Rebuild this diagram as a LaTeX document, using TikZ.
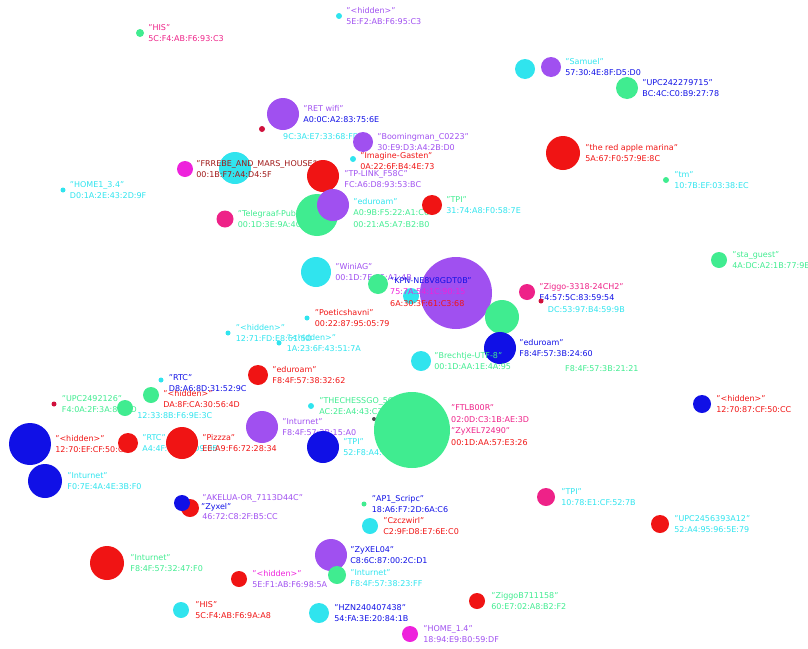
\documentclass[tikz,border=0pt]{standalone}
\usepackage{fontspec}
\setmainfont{DejaVu Sans}
\usetikzlibrary{positioning}
\definecolor{apred}{HTML}{F01414}
\definecolor{apblue}{HTML}{1010E6}
\definecolor{appurple}{HTML}{A050F0}
\definecolor{apcyan}{HTML}{30E4EE}
\definecolor{apgreen}{HTML}{40EC90}
\definecolor{apmag}{HTML}{EE22DC}
\definecolor{appink}{HTML}{EE2288}
\definecolor{apcrim}{HTML}{D0103C}
\definecolor{apdark}{HTML}{A01818}
\tikzset{
  ap/.style={circle, fill=#1, inner sep=0pt},
  ssid/.style={text=#1, font=\fontsize{8}{11.5}\selectfont, align=left, inner sep=0pt},
}

\begin{document}
\begin{tikzpicture}[x=1pt, y=-1pt]
  \useasboundingbox (0,0) rectangle (808,648);
  % top part
  \node[ap=apgreen, minimum size=8pt] (his1) at (140,33) {};
  \node[ssid=appink, right=4pt of his1] (his1-t) {"HIS"\\5C:F4:AB:F6:93:C3};
  \node[ap=apcyan, minimum size=6pt] (hid1) at (339,16) {};
  \node[ssid=appurple, right=4pt of hid1] (hid1-t) {"<hidden>"\\5E:F2:AB:F6:95:C3};
  \node[ap=apcyan, minimum size=20pt] (gstc) at (525,69) {};
  \node[ap=appurple, minimum size=20pt] (gstp) at (551,67) {};
  \node[ssid=apcyan, right=4pt of gstp] (gstp-t) {"Samuel"\\\textcolor{apblue}{57:30:4E:8F:D5:D0}};
  \node[ap=apgreen, minimum size=22pt] (upc1) at (627,88) {};
  \node[ssid=apblue, right=4pt of upc1] (upc1-t) {"UPC242279715"\\BC:4C:C0:B9:27:78};
  \node[ap=apred, minimum size=34pt] (apple) at (563,153) {};
  \node[ssid=apred, right=5pt of apple] (apple-t) {"the red apple marina"\\5A:67:F0:57:9E:8C};
  \node[ap=apgreen, minimum size=6pt] (tm) at (666,180) {};
  \node[ssid=apcyan, right=5pt of tm] (tm-t) {"tm"\\10:7B:EF:03:38:EC};

  \node[ap=apcrim, minimum size=6pt] (crim1) at (262,129) {};
  \node[ap=appurple, minimum size=32pt] (ret) at (283,114) {};
  \node[ssid=appurple, right=4pt of ret] (ret-t) {"RET wifi"\\\textcolor{apblue}{A0:0C:A2:83:75:6E}};
  \node[ssid=apcyan, anchor=west] (crim1-t) at (283,137) {9C:3A:E7:33:68:FD};
  \node[ap=appurple, minimum size=20pt] (boom) at (363,142) {};
  \node[ssid=appurple, right=4pt of boom] (boom-t) {"Boomingman\_C0223"\\30:E9:D3:A4:2B:D0};
  \node[ap=apcyan, minimum size=6pt] (img) at (353,159) {};
  \node[ssid=apred, right=4pt of img, yshift=-2pt] (img-t) {"Imagine-Gasten"\\0A:22:6F:B4:4E:73};
  \node[ap=apmag, minimum size=16pt] (frm) at (185,169) {};
  \node[ap=apcyan, minimum size=32pt] (frc) at (235,168) {};
  \node[ssid=apdark, right=3pt of frm] (frm-t) {"FRREBE\_AND\_MARS\_HOUSE"\\00:1B:F7:A4:D4:5F};
  \node[ap=apred, minimum size=32pt] (tpl) at (323,176) {};
  \node[ssid=appurple, right=5pt of tpl, yshift=-3pt] (tpl-t) {"TP-LINK\_F58C"\\FC:A6:D8:93:53:BC};
  \node[ap=apcyan, minimum size=5pt] (home1) at (63,190) {};
  \node[ssid=apcyan, right=4pt of home1] (home1-t) {"HOME1\_3.4"\\D0:1A:2E:43:2D:9F};
  \node[ap=appink, minimum size=17pt] (tel) at (225,219) {};
  \node[ssid=apgreen, right=4pt of tel] (tel-t) {"Telegraaf-Publiek"\\00:1D:3E:9A:4C:B1};
  \node[ap=apgreen, minimum size=42pt] (edug) at (317,215) {};
  \node[ap=appurple, minimum size=32pt] (edup) at (333,205) {};
  \node[ssid=apgreen, right=4pt of edup, yshift=-8pt] (edup-t)
    {\textcolor{apcyan}{"eduroam"}\\A0:9B:F5:22:A1:C6\\00:21:A5:A7:B2:B0};
  \node[ap=apred, minimum size=20pt] (tpi1) at (432,205) {};
  \node[ssid=apgreen, right=4pt of tpi1] (tpi1-t) {"TPI"\\\textcolor{apcyan}{31:74:A8:F0:58:7E}};
  \node[ap=apgreen, minimum size=16pt] (sta) at (719,260) {};
  \node[ssid=apgreen, right=5pt of sta] (sta-t) {"sta\_guest"\\4A:DC:A2:1B:77:9E};

  % middle part
  \node[ap=apcyan, minimum size=30pt] (win) at (316,272) {};
  \node[ssid=appurple, right=4pt of win] (win-t) {"WiniAG"\\00:1D:7E:35:A1:4B};
  \node[ap=appurple, minimum size=72pt] (kpn) at (456,293) {};
  \node[ap=apgreen, minimum size=20pt] (kpg) at (378,284) {};
  \node[ap=apcyan, minimum size=16pt] (kpc) at (411,296) {};
  \node[ap=apgreen, minimum size=34pt] (zg) at (502,317) {};
  \node[ssid=apblue, anchor=west] (kpn-t) at (390,292)
    {"KPN-NE8V8GDT0B"\\\textcolor{apmag}{75:7A:54:1C:90:15}\\\textcolor{apred}{6A:30:3F:61:C3:68}};
  \node[ap=appink, minimum size=16pt] (zig1) at (527,292) {};
  \node[ssid=appink, right=4pt of zig1] (zig1-t) {"Ziggo-3318-24CH2"\\\textcolor{apblue}{E4:57:5C:83:59:54}};
  \node[ap=apcrim, minimum size=5pt] (crim2) at (541,301) {};
  \node[ssid=apcyan, right=4pt of crim2, yshift=-9pt] (crim2-t) {DC:53:97:B4:59:9B};
  \node[ap=apblue, minimum size=32pt] (edub) at (500,348) {};
  \node[ssid=apblue, right=3pt of edub] (edub-t) {"eduroam"\\F8:4F:57:3B:24:60};
  \node[ssid=apgreen, anchor=west] (edub-x) at (565,369) {F8:4F:57:3B:21:21};
  \node[ap=apcyan, minimum size=20pt] (bre) at (421,361) {};
  \node[ssid=apgreen, right=3pt of bre] (bre-t) {"Brechtje-UTF-8"\\00:1D:AA:1E:4A:95};
  \node[ap=apcyan, minimum size=5pt] (poe) at (307,318) {};
  \node[ssid=apred, right=5pt of poe] (poe-t) {"Poeticshavni"\\00:22:87:95:05:79};
  \node[ap=apcyan, minimum size=5pt] (hid2) at (228,333) {};
  \node[ssid=apcyan, right=5pt of hid2] (hid2-t) {"<hidden>"\\12:71:FD:E8:61:5D};
  \node[ap=apcyan, minimum size=5pt] (hid3) at (279,343) {};
  \node[ssid=apcyan, right=5pt of hid3] (hid3-t) {"<hidden>"\\1A:23:6F:43:51:7A};
  \node[ap=apred, minimum size=20pt] (edur) at (258,375) {};
  \node[ssid=apred, right=4pt of edur] (edur-t) {"eduroam"\\F8:4F:57:38:32:62};
  \node[ap=apcyan, minimum size=5pt] (rtc1) at (161,380) {};
  \node[ap=apgreen, minimum size=16pt] (hidg) at (151,395) {};
  \node[ap=apgreen, minimum size=16pt] (upcg) at (125,408) {};
  \node[ssid=apblue, right=5pt of rtc1, yshift=-3pt] (rtc1-t) {"RTC"\\D8:A6:8D:31:52:9C};
  \node[ssid=apred, right=4pt of hidg, yshift=-4pt] (hidg-t) {"<hidden>"\\DA:8F:CA:30:56:4D};
  \node[ssid=apcyan, right=4pt of upcg, yshift=-8pt] (upcg-t) {12:33:8B:F6:9E:3C};
  \node[ap=apcrim, minimum size=5pt] (crim3) at (54,404) {};
  \node[ssid=apgreen, right=5pt of crim3] (crim3-t) {"UPC2492126"\\F4:0A:2F:3A:8B:1D};
  \node[ap=appurple, minimum size=32pt] (intp) at (262,427) {};
  \node[ssid=appurple, right=4pt of intp] (intp-t) {"Inturnet"\\F8:4F:57:3B:15:A0};
  \node[ap=apcyan, minimum size=6pt] (che) at (311,406) {};
  \node[ssid=apgreen, right=5pt of che] (che-t) {"THECHESSGO\_5G"\\AC:2E:A4:43:C7:09};
  \node[ap=apblue, minimum size=32pt] (tpib) at (323,447) {};
  \node[ssid=apcyan, right=4pt of tpib] (tpib-t) {"TPI"\\52:F8:A4:0C:71:E9};
  \node[ap=black!70, minimum size=4pt] (dkdot) at (374,419) {};
  \node[ap=apgreen, minimum size=76pt] (bigg) at (412,430) {};
  \node[ssid=appink, anchor=west] (bigg-t) at (451,425)
    {"FTLB00R"\\02:0D:C3:1B:AE:3D\\"ZyXEL72490"\\\textcolor{apred}{00:1D:AA:57:E3:26}};
  \node[ap=apblue, minimum size=18pt] (hid5) at (702,404) {};
  \node[ssid=apred, right=5pt of hid5] (hid5-t) {"<hidden>"\\12:70:87:CF:50:CC};

  % lower part
  \node[ap=apblue, minimum size=42pt] (hidb) at (30,444) {};
  \node[ssid=apred, right=4pt of hidb] (hidb-t) {"<hidden>"\\12:70:EF:CF:50:CB};
  \node[ap=apred, minimum size=20pt] (rtc2) at (128,443) {};
  \node[ssid=apcyan, right=4pt of rtc2] (rtc2-t) {"RTC"\\A4:4F:1A:83:D9:0B};
  \node[ap=apred, minimum size=32pt] (piz) at (182,443) {};
  \node[ssid=apred, right=4pt of piz] (piz-t) {"Pizzza"\\EE:A9:F6:72:28:34};
  \node[ap=apblue, minimum size=34pt] (intb) at (45,481) {};
  \node[ssid=apcyan, right=5pt of intb] (intb-t) {"Inturnet"\\F0:7E:4A:4E:3B:F0};
  \node[ap=apred, minimum size=18pt] (akr) at (190,508) {};
  \node[ap=apblue, minimum size=16pt] (akb) at (182,503) {};
  \node[ssid=appurple, right=3pt of akr, yshift=1pt] (akr-t) {"AKELUA-OR\_7113D44C"\\[7pt]46:72:C8:2F:B5:CC};
  \node[ssid=apblue, anchor=west] (akb-t) at (201,507) {"Zyxel"};
  \node[ap=apgreen, minimum size=5pt] (api) at (364,504) {};
  \node[ssid=apblue, right=5pt of api] (api-t) {"AP1\_Scripc"\\18:A6:F7:2D:6A:C6};
  \node[ap=apcyan, minimum size=16pt] (czc) at (370,526) {};
  \node[ssid=apred, right=5pt of czc] (czc-t) {"Czczwirl"\\C2:9F:D8:E7:6E:C0};
  \node[ap=appurple, minimum size=32pt] (zyx) at (331,555) {};
  \node[ssid=apblue, right=3pt of zyx] (zyx-t) {"ZyXEL04"\\C8:6C:87:00:2C:D1};
  \node[ap=apgreen, minimum size=18pt] (intg) at (337,575) {};
  \node[ssid=apcyan, right=4pt of intg, yshift=-3pt] (intg-t) {"Inturnet"\\F8:4F:57:38:23:FF};
  \node[ap=apred, minimum size=16pt] (hid4) at (239,579) {};
  \node[ssid=apmag, right=5pt of hid4] (hid4-t) {"<hidden>"\\\textcolor{appurple}{5E:F1:AB:F6:98:5A}};
  \node[ap=apred, minimum size=34pt] (intr) at (107,563) {};
  \node[ssid=apgreen, right=6pt of intr] (intr-t) {"Inturnet"\\F8:4F:57:32:47:F0};
  \node[ap=apcyan, minimum size=16pt] (his2) at (181,610) {};
  \node[ssid=apred, right=6pt of his2] (his2-t) {"HIS"\\5C:F4:AB:F6:9A:A8};
  \node[ap=apcyan, minimum size=20pt] (hzn) at (319,613) {};
  \node[ssid=apblue, right=5pt of hzn] (hzn-t) {"HZN240407438"\\54:FA:3E:20:84:1B};
  \node[ap=apmag, minimum size=16pt] (home2) at (410,634) {};
  \node[ssid=appurple, right=5pt of home2] (home2-t) {"HOME\_1.4"\\18:94:E9:B0:59:DF};
  \node[ap=apred, minimum size=16pt] (zig2) at (477,601) {};
  \node[ssid=apgreen, right=6pt of zig2] (zig2-t) {"ZiggoB711158"\\60:E7:02:A8:B2:F2};
  \node[ap=appink, minimum size=18pt] (tpi2) at (546,497) {};
  \node[ssid=apcyan, right=6pt of tpi2] (tpi2-t) {"TPI"\\10:78:E1:CF:52:7B};
  \node[ap=apred, minimum size=18pt] (upc3) at (660,524) {};
  \node[ssid=apcyan, right=5pt of upc3] (upc3-t) {"UPC2456393A12"\\52:A4:95:96:5E:79};
\end{tikzpicture}
\end{document}
